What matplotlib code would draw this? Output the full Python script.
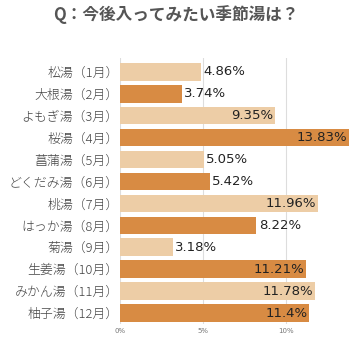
#!/usr/bin/env python3

import matplotlib

matplotlib.use("Agg")
import matplotlib.pyplot as plt

plt.rcParams["font.family"] = ["Noto Sans CJK JP", "DejaVu Sans"]

categories = [
    "松湯（1月）",
    "大根湯（2月）",
    "よもぎ湯（3月）",
    "桜湯（4月）",
    "菖蒲湯（5月）",
    "どくだみ湯（6月）",
    "桃湯（7月）",
    "はっか湯（8月）",
    "菊湯（9月）",
    "生姜湯（10月）",
    "みかん湯（11月）",
    "柚子湯（12月）",
]
values = [4.86, 3.74, 9.35, 13.83, 5.05, 5.42, 11.96, 8.22, 3.18, 11.21, 11.78, 11.4]
value_labels = ["4.86%", "3.74%", "9.35%", "13.83%", "5.05%", "5.42%",
                "11.96%", "8.22%", "3.18%", "11.21%", "11.78%", "11.4%"]
x_ticks = [0, 5, 10]
x_tick_labels = ["0%", "5%", "10%"]

light = "#EDCDA6"
dark = "#D88B43"

fig = plt.figure(figsize=(3.62, 3.44), dpi=100)
ax = fig.add_axes([120 / 362, 1 - 324 / 344, 232 / 362, 266 / 344])

ys = list(range(len(values)))
colors = [light if i % 2 == 0 else dark for i in ys]
ax.barh(ys, values, height=0.8, color=colors, zorder=2)

for y, v, lab in zip(ys, values, value_labels):
    if v > 9:
        ax.text(v - 0.1, y, lab, ha="right", va="center", fontsize=9.5,
                color="#222222", family="DejaVu Sans", zorder=3)
    else:
        ax.text(v + 0.15, y, lab, ha="left", va="center", fontsize=9.5,
                color="#222222", family="DejaVu Sans", zorder=3)

ax.set_xlim(0, 14)
ax.set_ylim(len(values) - 0.5, -0.63)
ax.set_yticks(ys)
ax.set_yticklabels(categories, fontsize=9.3, color="#444444", fontweight="light")
ax.set_xticks(x_ticks)
ax.set_xticklabels(x_tick_labels, fontsize=5, color="#777777", family="DejaVu Sans")
ax.tick_params(length=0, axis="both")
ax.tick_params(axis="y", pad=1)
ax.tick_params(axis="x", pad=3)

ax.grid(axis="x", color="#dddddd", linewidth=0.8, zorder=0)
for side in ["top", "right", "bottom", "left"]:
    ax.spines[side].set_visible(False)

fig.text(0.485, 1 - 15 / 344, "Q：今後入ってみたい季節湯は？", ha="center", va="center",
         fontsize=12, fontweight="bold", color="#555555")

fig.savefig("out.png", dpi=100)
